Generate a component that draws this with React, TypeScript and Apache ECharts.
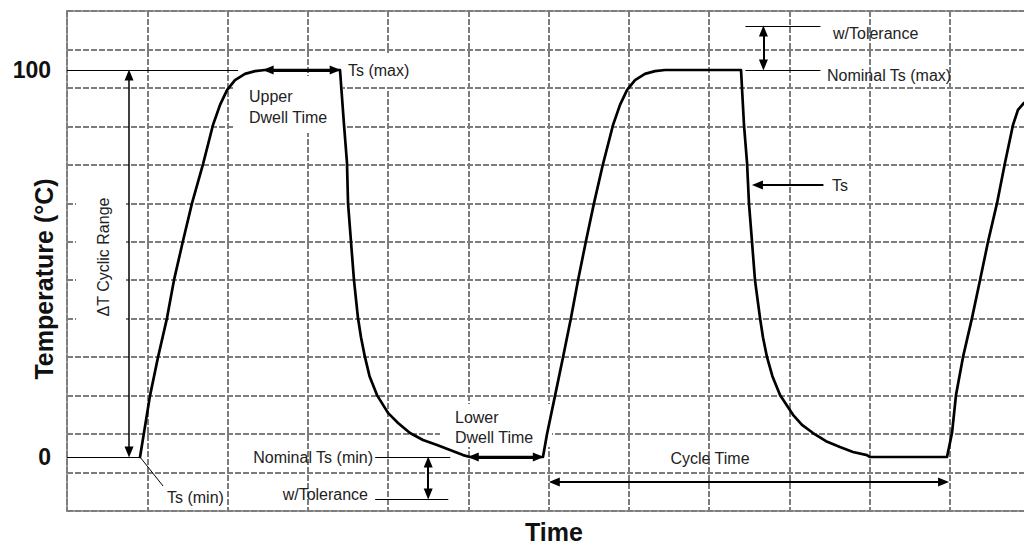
import React, { useEffect, useRef } from "react";
import * as echarts from "echarts";

// Temperature profile (time in grid divisions, temperature in % of cyclic range)
const timeUnits = [
  // cycle 1 ramp up
  0.910, 1.034, 1.134, 1.246, 1.333, 1.445, 1.558, 1.695, 1.819, 1.907, 1.994, 2.093, 2.218, 2.343, 2.467,
  // upper dwell + ramp down
  3.402, 3.452, 3.489, 3.502, 3.539, 3.576, 3.626, 3.664, 3.713, 3.770, 3.863, 4.000, 4.125, 4.274, 4.436, 4.611,
  4.773, 4.935, 5.022,
  // lower dwell + cycle 2 ramp up
  5.931, 5.981, 6.081, 6.181, 6.280, 6.368, 6.467, 6.567, 6.679, 6.804, 6.891, 6.978, 7.078, 7.202, 7.327, 7.452,
  // upper dwell + ramp down
  8.399, 8.436, 8.474, 8.498, 8.536, 8.573, 8.636, 8.673, 8.723, 8.790, 8.885, 9.047, 9.159, 9.296, 9.458, 9.632,
  9.794, 9.969, 10.006,
  // lower dwell + cycle 3 ramp up
  10.966, 11.028, 11.078, 11.165, 11.277, 11.377, 11.477, 11.589, 11.688, 11.788, 11.850, 11.925,
];
const temperature = [
  0, 15.8, 25.8, 35.9, 45.7, 55.8, 65.6, 75.7, 85.8, 91.0, 94.8, 97.4, 99.0, 99.7, 100,
  100, 85.8, 76.0, 65.6, 55.6, 45.7, 35.9, 30.9, 25.8, 20.9, 16.0, 11.4, 8.8, 6.2, 4.4, 3.1,
  1.8, 0.5, 0,
  0, 5.9, 15.8, 25.8, 35.9, 45.7, 55.8, 65.6, 75.7, 85.8, 91.0, 94.8, 97.4, 99.0, 99.7, 100,
  100, 85.8, 76.0, 65.6, 55.6, 45.7, 35.9, 30.9, 25.8, 20.9, 16.0, 10.9, 8.3, 6.2, 4.1, 2.6,
  1.3, 0.5, 0,
  0, 6.2, 16.0, 25.8, 35.9, 45.7, 55.6, 65.6, 76.0, 85.8, 89.7, 91.5,
];
const tempTickLabels = [0, 100];

// Annotation segments: [x1, t1, x2, t2]
const refLine100 = [0, 100, 2.132, 100];
const refLine0 = [0, 0, 0.91, 0];
const deltaRange = [0.773, 0, 0.773, 100];
const tsMinLeader = [0.91, 0, 1.197, -7.5];
const upperDwell = [2.444, 100, 3.404, 100];
const nominalMinLine = [3.84, 0, 4.776, 0];
const tolMinLine = [3.84, -10.85, 4.751, -10.85];
const tolMinArrow = [4.501, 0, 4.501, -10.85];
const lowerDwell = [5.0, 0, 5.935, 0];
const cycleTime = [6.01, -6.46, 10.985, -6.46];
const tolMaxLine = [8.454, 111.4, 9.389, 111.4];
const nominalMaxLine = [8.454, 100, 9.389, 100];
const tolMaxArrow = [8.678, 100, 8.678, 111.4];
const tsArrow = [9.426, 70.3, 8.541, 70.3];

const X_MAX = 12;
const T_MIN = -13.95;
const T_MAX = 115.25;
const GRID_W = 963;
const GRID_H = 500;
const FONT = '"Liberation Sans", Arial, Helvetica, sans-serif';

function seg(s: number[], startArrow: boolean, endArrow: boolean, width: number) {
  const pxX = GRID_W / X_MAX;
  const pxT = GRID_H / (T_MAX - T_MIN);
  let [x1, t1, x2, t2] = s;
  const dx = (x2 - x1) * pxX;
  const dy = (t2 - t1) * pxT;
  const len = Math.sqrt(dx * dx + dy * dy) || 1;
  const back = 5;
  const ux = (dx / len) * back;
  const uy = (dy / len) * back;
  if (startArrow) {
    x1 += ux / pxX;
    t1 += uy / pxT;
  }
  if (endArrow) {
    x2 -= ux / pxX;
    t2 -= uy / pxT;
  }
  return [
    {
      coord: [x1, t1],
      symbol: startArrow ? "triangle" : "none",
      symbolSize: [9, 11],
      lineStyle: { width, color: "#000", type: "solid" },
    },
    { coord: [x2, t2], symbol: endArrow ? "triangle" : "none", symbolSize: [9, 11] },
  ];
}

function label(text: string, x: number, y: number, align: string = "left", extra: any = {}) {
  return {
    type: "text",
    x,
    y,
    z: 10,
    silent: true,
    ...extra,
    style: {
      text,
      fill: "#222",
      fontSize: 16,
      fontFamily: FONT,
      align,
      verticalAlign: "middle",
      ...(extra.style || {}),
    },
  };
}

function whiteBox(x: number, y: number, width: number, height: number) {
  return {
    type: "rect",
    z: 1,
    silent: true,
    shape: { x, y, width, height },
    style: { fill: "#fff" },
  };
}

export default function App() {
  const ref = useRef<HTMLDivElement>(null);

  useEffect(() => {
    document.body.style.margin = "0";
    if (!ref.current) return;
    const chart = echarts.init(ref.current, undefined, { renderer: "svg" });
    const gridLine = { show: true, lineStyle: { color: "#7d7d7d", width: 2, type: [6, 2] } };

    chart.setOption({
      animation: false,
      backgroundColor: "#fff",
      grid: {
        left: 67,
        top: 11,
        right: -6,
        bottom: 34,
        show: true,
        borderColor: "#9b9b9b",
        borderWidth: 2,
        backgroundColor: "transparent",
        outerBoundsMode: "none",
        containLabel: false,
      },
      xAxis: {
        type: "value",
        min: 0,
        max: X_MAX,
        interval: 1,
        axisLine: { show: false },
        axisTick: { show: false },
        axisLabel: { show: false },
        splitLine: gridLine,
      },
      yAxis: [
        {
          type: "value",
          min: 0,
          max: 13,
          interval: 1,
          axisLine: { show: false },
          axisTick: { show: false },
          axisLabel: { show: false },
          splitLine: gridLine,
        },
        {
          type: "value",
          position: "left",
          min: T_MIN,
          max: T_MAX,
          axisLine: { show: false },
          axisTick: { show: false },
          splitLine: { show: false },
          axisLabel: {
            show: true,
            customValues: tempTickLabels,
            fontSize: 23,
            fontWeight: "bold",
            fontFamily: FONT,
            color: "#111",
            margin: 16,
          },
        },
      ],
      series: [
        {
          type: "line",
          xAxisIndex: 0,
          yAxisIndex: 1,
          data: timeUnits.map((t, i) => [t, temperature[i]]),
          showSymbol: false,
          symbol: "none",
          smooth: false,
          z: 5,
          lineStyle: { color: "#000", width: 2.7, join: "round", cap: "round" },
          markLine: {
            silent: true,
            symbol: ["none", "none"],
            label: { show: false },
            emphasis: { disabled: true },
            itemStyle: { color: "#000" },
            lineStyle: { color: "#000", type: "solid" },
            data: [
              seg(refLine100, false, false, 1),
              seg(refLine0, false, false, 1),
              seg(deltaRange, true, true, 1.5),
              seg(tsMinLeader, false, false, 1),
              seg(upperDwell, true, true, 3),
              seg(nominalMinLine, false, false, 1),
              seg(tolMinLine, false, false, 1),
              seg(tolMinArrow, true, true, 2),
              seg(lowerDwell, true, true, 3),
              seg(cycleTime, true, true, 2),
              seg(tolMaxLine, false, false, 1),
              seg(nominalMaxLine, false, false, 1),
              seg(tolMaxArrow, true, true, 2),
              seg(tsArrow, false, true, 2),
            ],
          },
        },
      ],
      graphic: [
        whiteBox(76, 187, 50, 146),
        whiteBox(233, 76, 110, 57),
        whiteBox(342, 53, 86, 34),
        whiteBox(440, 404, 112, 43),
        label("ΔT Cyclic Range", 103, 257, "center", { rotation: Math.PI / 2 }),
        label("Upper", 249, 96),
        label("Dwell Time", 249, 117),
        label("Ts (max)", 348, 70),
        label("Ts (min)", 167, 497),
        label("Nominal Ts (min)", 373, 457, "right"),
        label("w/Tolerance", 368, 494, "right"),
        label("Lower", 455, 417),
        label("Dwell Time", 455, 437),
        label("Cycle Time", 710, 458, "center"),
        label("w/Tolerance", 833, 33),
        label("Nominal Ts (max)", 827, 75),
        label("Ts", 832, 185),
        label("Temperature (°C)", 44, 279, "center", {
          rotation: Math.PI / 2,
          style: { fontSize: 25, fontWeight: "bold", fill: "#111" },
        }),
        label("Time", 554, 532, "center", {
          style: { fontSize: 25, fontWeight: "bold", fill: "#111" },
        }),
      ],
    });
    return () => chart.dispose();
  }, []);

  return <div ref={ref} style={{ width: 1024, height: 545 }} />;
}
